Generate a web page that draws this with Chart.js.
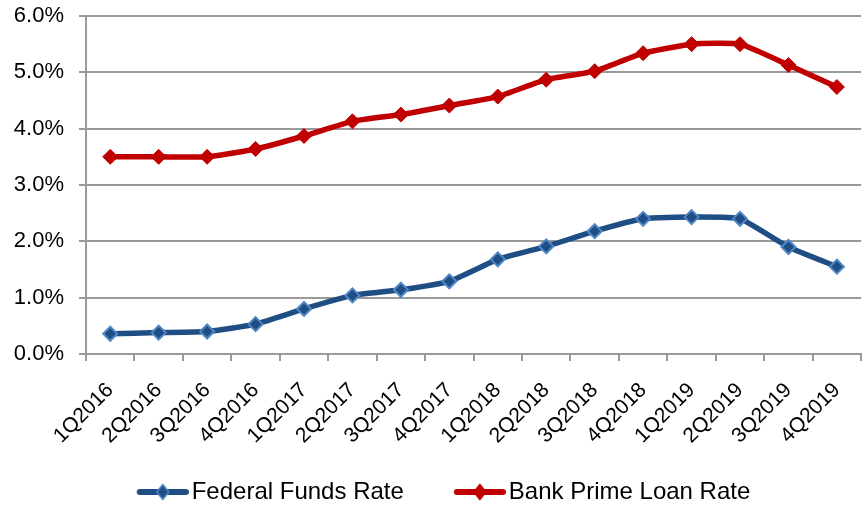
<!DOCTYPE html>
<html>
<head>
<meta charset="utf-8">
<script src="https://cdn.jsdelivr.net/npm/chart.js@4.4.1/dist/chart.umd.min.js"></script>
<style>
  html, body { margin: 0; padding: 0; background: #ffffff; overflow: hidden; }
  #wrap { width: 872px; height: 506px; }
</style>
</head>
<body>
<div id="wrap"><canvas id="c" width="872" height="506"></canvas></div>
<script>
const quarters = ["1Q2016","2Q2016","3Q2016","4Q2016","1Q2017","2Q2017","3Q2017","4Q2017",
                  "1Q2018","2Q2018","3Q2018","4Q2018","1Q2019","2Q2019","3Q2019","4Q2019"];
const fedFundsRate = [0.36, 0.38, 0.40, 0.53, 0.80, 1.04, 1.14, 1.29,
                      1.68, 1.91, 2.18, 2.40, 2.43, 2.40, 1.90, 1.55];
const primeLoanRate = [3.50, 3.50, 3.50, 3.64, 3.87, 4.13, 4.25, 4.41,
                       4.57, 4.87, 5.02, 5.34, 5.50, 5.50, 5.13, 4.74];
const yTicks = [0, 1, 2, 3, 4, 5, 6];
const seriesNames = ["Federal Funds Rate", "Bank Prime Loan Rate"];

const BLUE = "#1F4E85";
const BLUE_EDGE = "#4F86C6";
const RED = "#C00000";
const GRID = "#9a9a9a";

function legendSwatch(lineColor, fill, edge) {
  const cv = document.createElement("canvas");
  cv.width = 76; cv.height = 18;
  const g = cv.getContext("2d");
  g.strokeStyle = lineColor; g.lineWidth = 6; g.lineCap = "round";
  g.beginPath(); g.moveTo(27, 9); g.lineTo(73, 9); g.stroke();
  g.beginPath();
  const cx = 50, cy = 9;
  g.moveTo(cx - 6, cy); g.lineTo(cx, cy - 7.5); g.lineTo(cx + 6, cy); g.lineTo(cx, cy + 7.5); g.closePath();
  g.fillStyle = fill; g.fill();
  g.lineWidth = 1.5; g.strokeStyle = edge; g.stroke();
  return cv;
}
const swatches = [legendSwatch(BLUE, BLUE, BLUE_EDGE), legendSwatch(RED, RED, RED)];

new Chart(document.getElementById("c"), {
  type: "line",
  data: {
    labels: quarters,
    datasets: [
      {
        label: seriesNames[0], data: fedFundsRate,
        borderColor: BLUE, backgroundColor: BLUE, borderWidth: 5.5,
        pointStyle: "rectRot", pointRadius: 7, pointBorderWidth: 2,
        pointBackgroundColor: BLUE, pointBorderColor: BLUE_EDGE,
        tension: 0.15, fill: false
      },
      {
        label: seriesNames[1], data: primeLoanRate,
        borderColor: RED, backgroundColor: RED, borderWidth: 5.5,
        pointStyle: "rectRot", pointRadius: 7.5, pointBorderWidth: 1,
        pointBackgroundColor: RED, pointBorderColor: RED,
        tension: 0.15, fill: false
      }
    ]
  },
  options: {
    responsive: false,
    animation: false,
    devicePixelRatio: 1,
    layout: { padding: { top: 16, left: 0, right: 0, bottom: 0 } },
    plugins: {
      tooltip: { enabled: false },
      legend: {
        position: "bottom",
        maxHeight: 61,
        labels: {
          font: { family: "'Liberation Sans', Arial, sans-serif", size: 24 },
          color: "#000",
          usePointStyle: true,
          pointStyleWidth: 58,
          padding: 35,
          generateLabels: (chart) => {
            const items = Chart.defaults.plugins.legend.labels.generateLabels(chart);
            items.forEach((it, i) => { it.pointStyle = swatches[i]; });
            return items;
          }
        }
      }
    },
    scales: {
      x: {
        type: "category",
        offset: true,
        grid: { display: true, drawOnChartArea: false, drawTicks: true, tickLength: 7, offset: true, color: GRID, lineWidth: 2 },
        border: { display: true, color: GRID, width: 2 },
        ticks: {
          autoSkip: false, minRotation: 45, maxRotation: 45, padding: 17,
          color: "#000",
          font: { family: "'Liberation Sans', Arial, sans-serif", size: 21 }
        },
        afterFit: (s) => { s.height = 91; }
      },
      y: {
        min: 0, max: 6,
        afterBuildTicks: (s) => { s.ticks = yTicks.map(v => ({ value: v })); },
        grid: { color: GRID, lineWidth: 2, tickLength: 7, drawTicks: true },
        border: { display: true, color: GRID, width: 2 },
        ticks: {
          padding: 15, color: "#000",
          font: { family: "'Liberation Sans', Arial, sans-serif", size: 22 },
          callback: (v) => Number(v).toFixed(1) + "%"
        },
        afterFit: (s) => { s.width = 86; s.paddingTop = 0; s.paddingBottom = 0; }
      }
    }
  }
});
</script>
</body>
</html>
